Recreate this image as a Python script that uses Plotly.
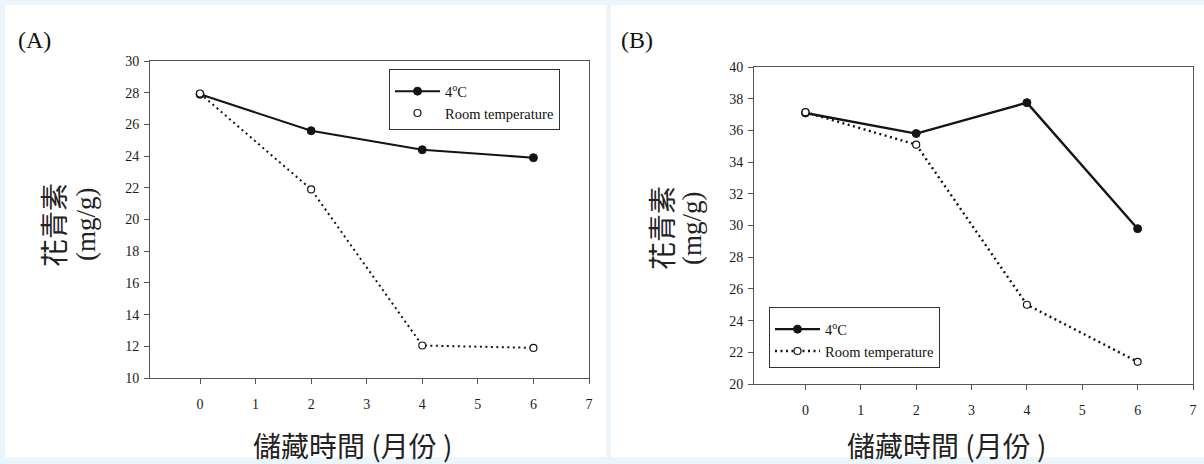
import plotly.graph_objects as go

# ---------------- data ----------------
months = [0, 2, 4, 6]

a_cold = [27.9, 25.6, 24.4, 23.9]
a_room = [27.95, 21.9, 12.05, 11.9]

b_cold = [37.1, 35.8, 37.75, 29.8]
b_room = [37.15, 35.1, 25.0, 21.4]

x_ticks = [0, 1, 2, 3, 4, 5, 6, 7]
a_y_ticks = [10, 12, 14, 16, 18, 20, 22, 24, 26, 28, 30]
b_y_ticks = [20, 22, 24, 26, 28, 30, 32, 34, 36, 38, 40]

name_cold = "4<sup>o</sup>C"
name_room = "Room temperature"
panel_labels = ["(A)", "(B)"]
y_title_cjk = "花青素"
y_title_unit = "(mg/g)"
x_title = "儲藏時間 (月份 )"

# ---------------- style ----------------
W, H = 1204, 464
INK = "#141414"
AX = "#555555"
SERIF = "Liberation Serif, Times New Roman, serif"
CJK = "Noto Sans CJK TC, Noto Sans CJK SC, sans-serif"
BG = "#EDF5FC"
DOT = "2px,3.5px"

def px_x(p):
    return p / W

def px_y(p):
    return 1 - p / H

fig = go.Figure()

cold_marker = dict(symbol="circle", size=8, color=INK, line=dict(color=INK, width=1))
room_marker_fill = dict(symbol="circle", size=7, color="white", line=dict(color=INK, width=1.2))

# Panel A
fig.add_trace(go.Scatter(x=months, y=a_cold, mode="lines+markers", name=name_cold,
                         line=dict(color=INK, width=2), marker=cold_marker,
                         xaxis="x", yaxis="y", legend="legend"))
fig.add_trace(go.Scatter(x=months, y=a_room, mode="lines+markers", name=name_room,
                         line=dict(color=INK, width=2, dash=DOT), marker=room_marker_fill,
                         xaxis="x", yaxis="y", showlegend=False))
# legend A shows the room-temperature entry as a marker only
fig.add_trace(go.Scatter(x=[None], y=[None], mode="markers", name=name_room,
                         marker=room_marker_fill, xaxis="x", yaxis="y", legend="legend"))

# Panel B
fig.add_trace(go.Scatter(x=months, y=b_cold, mode="lines+markers", name=name_cold,
                         line=dict(color=INK, width=2.4), marker=cold_marker,
                         xaxis="x2", yaxis="y2", legend="legend2"))
fig.add_trace(go.Scatter(x=months, y=b_room, mode="lines+markers", name=name_room,
                         line=dict(color=INK, width=2.4, dash=DOT), marker=room_marker_fill,
                         xaxis="x2", yaxis="y2", legend="legend2"))

axis_common = dict(showline=True, mirror=True, linecolor=AX, linewidth=1,
                   ticks="outside", ticklen=5, tickcolor=AX, tickwidth=1,
                   showgrid=False, zeroline=False, automargin=False,
                   tickfont=dict(family=SERIF, size=14, color="#1a1a1a"))

# pixel geometry of the plot areas
A = dict(l=150, r=589, t=61, b=378)
B = dict(l=754, r=1193, t=67, b=384)

legend_font = dict(family=SERIF, size=14.5, color="#111")
legend_title = dict(text=" ", font=dict(size=4))

fig.update_layout(
    width=W, height=H,
    margin=dict(l=0, r=0, t=0, b=0, pad=0, autoexpand=False),
    paper_bgcolor=BG, plot_bgcolor="white",
    xaxis=dict(axis_common, domain=[px_x(A["l"]), px_x(A["r"])], range=[-0.9, 7],
               tickvals=x_ticks, anchor="y", ticklabelstandoff=8),
    yaxis=dict(axis_common, domain=[px_y(A["b"]), px_y(A["t"])], range=[10, 30],
               tickvals=a_y_ticks, anchor="x", ticklabelstandoff=2),
    xaxis2=dict(axis_common, domain=[px_x(B["l"]), px_x(B["r"])], range=[-0.93, 7],
                tickvals=x_ticks, anchor="y2", ticklabelstandoff=8),
    yaxis2=dict(axis_common, domain=[px_y(B["b"]), px_y(B["t"])], range=[20, 40],
                tickvals=b_y_ticks, anchor="x2", ticklabelstandoff=2),
    legend=dict(x=px_x(389), y=px_y(69), xanchor="left", yanchor="top",
                bgcolor="white", bordercolor="#333", borderwidth=1,
                font=legend_font, itemwidth=45, tracegroupgap=0, title=legend_title),
    legend2=dict(x=px_x(769), y=px_y(307), xanchor="left", yanchor="top",
                 bgcolor="white", bordercolor="#333", borderwidth=1,
                 font=legend_font, itemwidth=45, tracegroupgap=0, title=legend_title),
    showlegend=True,
)

# white panel backgrounds
fig.add_shape(type="rect", xref="paper", yref="paper", layer="below",
              x0=px_x(5), x1=px_x(606), y0=px_y(457), y1=px_y(5),
              fillcolor="white", line=dict(width=0))
fig.add_shape(type="rect", xref="paper", yref="paper", layer="below",
              x0=px_x(611), x1=1, y0=px_y(457), y1=px_y(5),
              fillcolor="white", line=dict(width=0))

def ann(text, x, y, font, angle=0):
    fig.add_annotation(text=text, xref="paper", yref="paper", x=px_x(x), y=px_y(y),
                       xanchor="center", yanchor="middle", showarrow=False,
                       textangle=angle, font=font)

serif_big = dict(family=SERIF, size=24, color="#111")
cjk_big = dict(family=CJK, size=28, color="#222")
unit_font = dict(family=SERIF, size=27, color="#222")

# panel A texts
ann(panel_labels[0], 34, 40, serif_big)
ann(y_title_cjk, 53, 225, cjk_big, -90)
ann(y_title_unit, 86, 224, unit_font, -90)
ann(x_title, 352, 445, cjk_big)

# panel B texts
ann(panel_labels[1], 637, 40, serif_big)
ann(y_title_cjk, 661, 228, cjk_big, -90)
ann(y_title_unit, 692, 228, unit_font, -90)
ann(x_title, 946, 445, cjk_big)

js = """
document.documentElement.style.margin='0';
document.body.style.margin='0';
document.documentElement.style.overflow='hidden';
"""

fig.write_html("out.html", post_script=js, config={"displayModeBar": False})
